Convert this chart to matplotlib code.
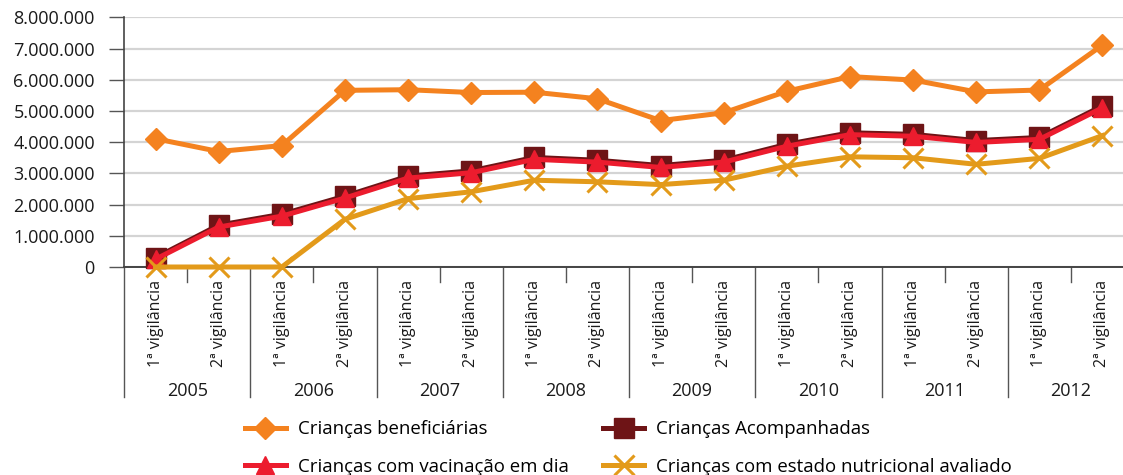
import matplotlib
matplotlib.use("Agg")
import matplotlib.pyplot as plt
import matplotlib.transforms as mtransforms
from matplotlib.ticker import FuncFormatter

plt.rcParams['font.family'] = ['Open Sans', 'DejaVu Sans']

years = ["2005", "2006", "2007", "2008", "2009", "2010", "2011", "2012"]
periods = ["1ª vigilância", "2ª vigilância"]

beneficiarias = [4.11, 3.70, 3.89, 5.66, 5.68, 5.59, 5.60, 5.39,
                 4.69, 4.94, 5.63, 6.10, 5.99, 5.61, 5.67, 7.11]
acompanhadas = [0.30, 1.34, 1.69, 2.27, 2.91, 3.08, 3.51, 3.42,
                3.25, 3.42, 3.93, 4.30, 4.25, 4.05, 4.15, 5.16]
vacinacao = [0.25, 1.28, 1.63, 2.21, 2.85, 3.02, 3.45, 3.36,
             3.19, 3.36, 3.87, 4.24, 4.19, 3.99, 4.09, 5.10]
nutricional = [0.0, 0.0, 0.0, 1.53, 2.19, 2.41, 2.78, 2.73,
               2.64, 2.78, 3.23, 3.53, 3.50, 3.29, 3.48, 4.21]

series_labels = ["Crianças beneficiárias", "Crianças Acompanhadas",
                 "Crianças com vacinação em dia",
                 "Crianças com estado nutricional avaliado"]

c_benef = "#F4821F"
c_acomp = "#6E1416"
c_vac = "#EC1C2E"
c_nutr = "#E39A1A"

W, H = 1123, 475
fig = plt.figure(figsize=(W / 100, H / 100), dpi=100)
ax = fig.add_axes([124 / W, (H - 267) / H, 1010 / W, (267 - 17.3) / H])

n = len(years) * len(periods)
x = list(range(n))
xlabels = [periods[i % 2] for i in range(n)]
scale = 1e6

def v(arr):
    return [a * scale for a in arr]

lb, = ax.plot(x, v(beneficiarias), color=c_benef, lw=3.6, marker="D",
              ms=11, mec=c_benef, mfc=c_benef, clip_on=False, zorder=3)
la, = ax.plot(x, v(acompanhadas), color=c_acomp, lw=3.6, marker="s",
              ms=14, mec=c_acomp, mfc=c_acomp, clip_on=False, zorder=4)
lv, = ax.plot(x, v(vacinacao), color=c_vac, lw=3.6, marker="^",
              ms=13, mec=c_vac, mfc=c_vac, clip_on=False, zorder=5)
ln, = ax.plot(x, v(nutricional), color=c_nutr, lw=3.6, marker="x",
              ms=14, mew=2.2, mec=c_nutr, clip_on=False, zorder=6)

ax.set_xlim(-0.5, n - 0.5)
ax.set_ylim(0, 8e6)
ax.set_yticks([i * 1e6 for i in range(9)])
ax.yaxis.set_major_formatter(FuncFormatter(lambda val, p: f"{int(val):,}".replace(",", ".")))
ax.tick_params(axis="y", length=11, width=1.0, color="#555555", pad=10,
               labelsize=13, labelcolor="#1a1a1a")
ax.grid(axis="y", color="#d4d4d4", lw=1.6)
ax.set_axisbelow(True)

ax.set_xticks(x)
ax.set_xticklabels(xlabels, rotation=90, fontsize=11.5, color="#1a1a1a")
ax.tick_params(axis="x", length=0, pad=9.5)

for s in ["top", "right"]:
    ax.spines[s].set_visible(False)
ax.spines["left"].set_color("#444444")
ax.spines["bottom"].set_color("#444444")
ax.spines["left"].set_linewidth(1.2)
ax.spines["bottom"].set_linewidth(1.4)

trans = mtransforms.blended_transform_factory(ax.transData, ax.transAxes)
axh = 267 - 17.3
for k in range(n + 1):
    xb = k - 0.5
    if k % 2 == 0:
        y1 = -(397 - 267) / axh
    else:
        y1 = -(282 - 267) / axh
    ax.plot([xb, xb], [0, y1], transform=trans, color="#555555", lw=1.0,
            clip_on=False)

for i, yr in enumerate(years):
    ax.text(2 * i + 0.5, -(390.7 - 267) / axh, yr, transform=trans,
            ha="center", va="center", fontsize=13, color="#1a1a1a")

handles = [lb, lv, la, ln]
labels = [series_labels[0], series_labels[2], series_labels[1], series_labels[3]]
fig.legend(handles, labels, ncol=2, frameon=False, fontsize=13.4,
           loc="center left", bbox_to_anchor=(245 / W, (H - 448) / H),
           handlelength=2.2, handletextpad=0.65, columnspacing=1.85,
           labelspacing=1.05, borderaxespad=0, borderpad=0)

fig.savefig("out.png", dpi=100)
